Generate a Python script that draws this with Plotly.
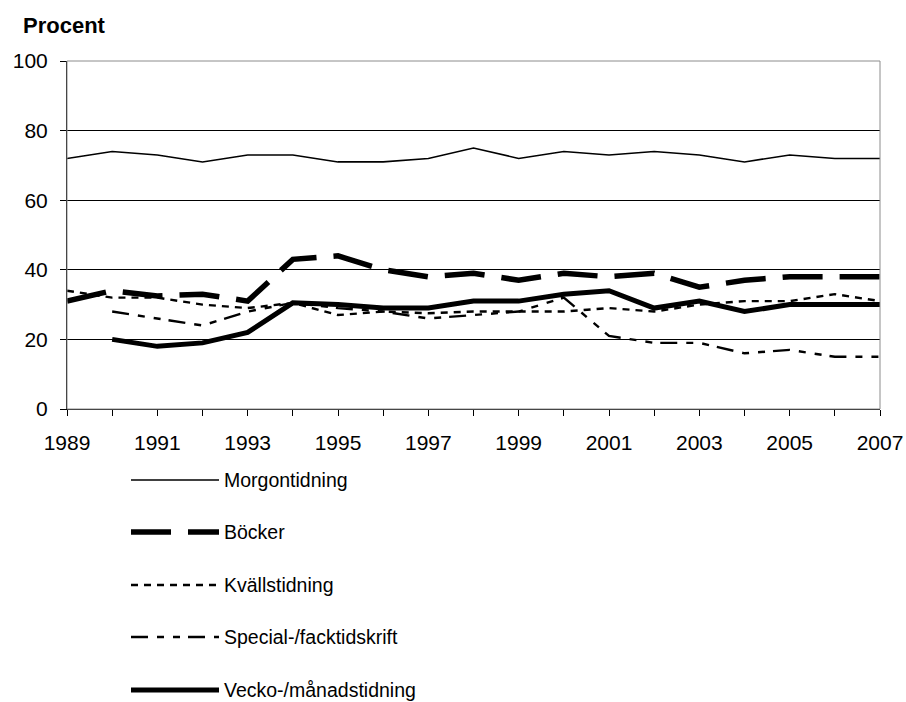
import plotly.graph_objects as go

years = list(range(1989, 2008))

morgontidning = [72, 74, 73, 71, 73, 73, 71, 71, 72, 75, 72, 74, 73, 74, 73, 71, 73, 72, 72]
bocker = [31, 34, 32.5, 33, 31, 43, 44, 40, 38, 39, 37, 39, 38, 39, 35, 37, 38, 38, 38]
kvallstidning = [34, 32, 32, 30, 29, 30.5, 27, 28, 27.5, 28, 28, 28, 29, 28, 30, 31, 31, 33, 31]
special = [None, 28, 26, 24, 28, 30.5, 29, 28, 26, 27, 28, 32, 21, 19, 19, 16, 17, 15, 15]
vecko = [None, 20, 18, 19, 22, 30.5, 30, 29, 29, 31, 31, 33, 34, 29, 31, 28, 30, 30, 30]

series_names = ["Morgontidning", "Böcker", "Kvällstidning", "Special-/facktidskrift",
                "Vecko-/månadstidning"]
series_values = [morgontidning, bocker, kvallstidning, special, vecko]

y_ticks = [0, 20, 40, 60, 80, 100]
x_tick_labels = [str(y) if (y - 1989) % 2 == 0 else "" for y in years]

styles = [
    dict(width=1.6, dash="solid"),
    dict(width=5.5, dash="40px,17px"),
    dict(width=2.4, dash="7px,6px"),
    dict(width=2.4, dash="17px,9px,7px,9px,7px,8px"),
    dict(width=5, dash="solid"),
]

FONT = "Liberation Sans, Arial, sans-serif"
W, H = 906, 702
# plot area in page pixels: x 67..880, y 61..409
PX0, PX1, PY0, PY1 = 67, 880, 61, 409
L, R = PX0, W - PX1
T, B = PY0, H - PY1
PW, PH = PX1 - PX0, PY1 - PY0


def px_x(x):
    return (x - PX0) / PW


def px_y(y):
    return (PY1 - y) / PH


fig = go.Figure()
for name, vals, st in zip(series_names, series_values, styles):
    fig.add_trace(go.Scatter(
        x=years, y=vals, mode="lines", name=name, showlegend=False,
        line=dict(color="black", width=st["width"], dash=st["dash"]),
        connectgaps=False,
    ))

shapes = [dict(type="rect", xref="paper", yref="paper", x0=0, x1=1, y0=0, y1=1,
               line=dict(color="#8c8c8c", width=1), layer="above")]
annotations = [dict(text="<b>Procent</b>", xref="paper", yref="paper",
                    x=px_x(21), y=px_y(25), xanchor="left", yanchor="middle",
                    showarrow=False, font=dict(family=FONT, size=22, color="black"))]

row_y = [480, 532, 585, 637, 690]
for name, st, ry in zip(series_names, styles, row_y):
    shapes.append(dict(type="line", xref="paper", yref="paper",
                       x0=px_x(131), x1=px_x(219), y0=px_y(ry), y1=px_y(ry),
                       line=dict(color="black", width=st["width"], dash=st["dash"])))
    annotations.append(dict(text=name, xref="paper", yref="paper",
                            x=px_x(222), y=px_y(ry), xanchor="left", yanchor="middle",
                            showarrow=False,
                            font=dict(family=FONT, size=19.5, color="black")))

fig.update_layout(
    width=W, height=H, autosize=False,
    margin=dict(l=L, r=R, t=T, b=B, pad=0, autoexpand=False),
    plot_bgcolor="white", paper_bgcolor="white",
    font=dict(family=FONT, size=19, color="black"),
    shapes=shapes, annotations=annotations,
    xaxis=dict(range=[1989, 2007], tickmode="array", tickvals=years,
               ticktext=x_tick_labels, ticks="outside", ticklen=6, tickcolor="black",
               showgrid=False, showline=True, linecolor="black", linewidth=1,
               zeroline=False, ticklabelstandoff=9, automargin=False,
               tickfont=dict(family=FONT, size=21, color="black")),
    yaxis=dict(range=[0, 100], tickmode="array", tickvals=y_ticks,
               ticks="outside", ticklen=6, tickcolor="black",
               showgrid=True, gridcolor="black", gridwidth=1,
               showline=True, linecolor="black", linewidth=1,
               zeroline=False, ticklabelstandoff=8, automargin=False,
               tickfont=dict(family=FONT, size=21, color="black")),
)

fig.write_html(
    "out.html",
    config={"displayModeBar": False},
    post_script=("document.body.style.margin='0px';"
                 "document.documentElement.style.overflow='hidden';"
                 "document.body.style.overflow='hidden';"),
)
